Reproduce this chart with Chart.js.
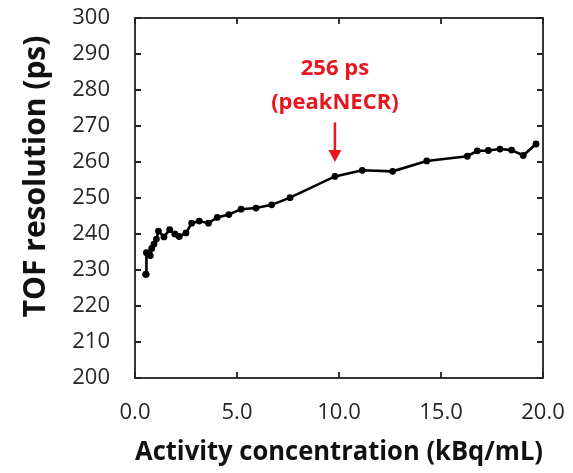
<!DOCTYPE html>
<html>
<head>
<meta charset="utf-8">
<script src="https://cdn.jsdelivr.net/npm/chart.js@4/dist/chart.umd.min.js"></script>
<style>
  html, body { margin: 0; padding: 0; background: #fff; }
  #wrap { width: 573px; height: 473px; }
</style>
</head>
<body>
<div id="wrap"><canvas id="c" width="573" height="473"></canvas></div>
<script>
// Activity concentration (kBq/mL)
const activity = [0.52, 0.55, 0.56, 0.75, 0.82, 0.93, 1.05, 1.15, 1.42, 1.70, 1.95, 2.17, 2.50, 2.78, 3.15, 3.60, 4.03, 4.60, 5.20, 5.93, 6.70, 7.60, 9.80, 11.14, 12.63, 14.30, 16.29, 16.78, 17.32, 17.89, 18.46, 19.03, 19.66];
// TOF resolution (ps)
const tofResolution = [228.8, 228.8, 234.8, 234.0, 236.0, 237.2, 238.6, 240.8, 239.2, 241.2, 240.0, 239.3, 240.3, 243.0, 243.6, 243.0, 244.6, 245.4, 246.9, 247.2, 248.1, 250.1, 256.0, 257.7, 257.4, 260.3, 261.6, 263.1, 263.2, 263.6, 263.3, 261.8, 265.0];
// Axis ticks
const xTicks = [0, 5, 10, 15, 20];
const yTicks = [200, 210, 220, 230, 240, 250, 260, 270, 280, 290, 300];
// Peak NECR point index and its caption
const peakIndex = 22;
const peakCaption = 'peakNECR';
const yTitle = 'TOF resolution (ps)';
const xTitle = 'Activity concentration (kBq/mL)';

const red = '#e8161e';
const tickFont = { family: 'Open Sans', size: 22 };

// Drop the automatic label-overflow padding so the plot box sits where the layout padding puts it
function fixPadding(scale) {
  scale.paddingTop = 0; scale.paddingBottom = 0;
  scale.paddingLeft = 0; scale.paddingRight = 0;
}

// Frame box with inward ticks on all four sides, plus the rotated y-axis title
const framePlugin = {
  id: 'frame',
  afterDraw(chart) {
    const { ctx, chartArea: a, scales: { x, y } } = chart;
    ctx.save();
    ctx.strokeStyle = '#222';
    ctx.lineWidth = 1.8;
    ctx.strokeRect(a.left, a.top, a.right - a.left, a.bottom - a.top);
    ctx.beginPath();
    const len = 6;
    xTicks.forEach(v => {
      const px = x.getPixelForValue(v);
      ctx.moveTo(px, a.bottom); ctx.lineTo(px, a.bottom - len);
      ctx.moveTo(px, a.top); ctx.lineTo(px, a.top + len);
    });
    yTicks.forEach(v => {
      const py = y.getPixelForValue(v);
      ctx.moveTo(a.left, py); ctx.lineTo(a.left + len, py);
      ctx.moveTo(a.right, py); ctx.lineTo(a.right - len, py);
    });
    ctx.stroke();

    ctx.translate(36, y.getPixelForValue(256));
    ctx.rotate(-Math.PI / 2);
    ctx.fillStyle = '#111';
    ctx.font = 'bold 30px "Open Sans"';
    ctx.textAlign = 'center';
    ctx.textBaseline = 'middle';
    ctx.fillText(yTitle, 0, 0);
    ctx.restore();
  }
};

// Red annotation with arrow pointing at the peak NECR point
const annotationPlugin = {
  id: 'peakNote',
  afterDatasetsDraw(chart) {
    const { ctx, scales: { x, y } } = chart;
    const px = x.getPixelForValue(activity[peakIndex]);
    const peakVal = tofResolution[peakIndex];
    const yTip = y.getPixelForValue(peakVal + 4);
    const yStart = y.getPixelForValue(peakVal + 15);
    ctx.save();
    ctx.strokeStyle = red;
    ctx.fillStyle = red;
    ctx.lineWidth = 2.5;
    ctx.beginPath();
    ctx.moveTo(px, yStart);
    ctx.lineTo(px, yTip - 10);
    ctx.stroke();
    ctx.beginPath();
    ctx.moveTo(px - 6.5, yTip - 12);
    ctx.lineTo(px + 6.5, yTip - 12);
    ctx.lineTo(px, yTip);
    ctx.closePath();
    ctx.fill();
    ctx.font = 'bold 22px "Open Sans"';
    ctx.textAlign = 'center';
    ctx.textBaseline = 'middle';
    ctx.fillText(Math.round(peakVal) + ' ps', px, y.getPixelForValue(peakVal + 30));
    ctx.fillText('(' + peakCaption + ')', px, y.getPixelForValue(peakVal + 20.6));
    ctx.restore();
  }
};

new Chart(document.getElementById('c'), {
  type: 'scatter',
  data: {
    datasets: [{
      data: activity.map((v, i) => ({ x: v, y: tofResolution[i] })),
      showLine: true,
      borderColor: '#000',
      backgroundColor: '#000',
      borderWidth: 2.6,
      pointRadius: 3.4,
      pointHoverRadius: 3.4,
      pointBorderWidth: 0,
      tension: 0
    }]
  },
  options: {
    responsive: false,
    animation: false,
    devicePixelRatio: 1,
    layout: { padding: { left: 0, top: 18, right: 30, bottom: 0 } },
    plugins: { legend: { display: false }, tooltip: { enabled: false } },
    scales: {
      x: {
        type: 'linear',
        min: 0, max: 20,
        afterBuildTicks(scale) { scale.ticks = xTicks.map(v => ({ value: v })); },
        afterFit(scale) { scale.height = 95; fixPadding(scale); },
        grid: { display: false, drawTicks: false },
        border: { display: false },
        ticks: { font: tickFont, color: '#262626', padding: 22, maxRotation: 0,
                 callback: v => v.toFixed(1) },
        title: { display: true, text: xTitle, font: { family: 'Open Sans', size: 26.5, weight: 'bold' },
                 color: '#111', padding: { top: 0, bottom: 5 } }
      },
      y: {
        type: 'linear',
        min: 200, max: 300,
        afterBuildTicks(scale) { scale.ticks = yTicks.map(v => ({ value: v })); },
        afterFit(scale) { scale.width = 135; fixPadding(scale); },
        grid: { display: false, drawTicks: false },
        border: { display: false },
        ticks: { font: tickFont, color: '#262626', padding: 25 }
      }
    }
  },
  plugins: [framePlugin, annotationPlugin]
});
</script>
</body>
</html>
